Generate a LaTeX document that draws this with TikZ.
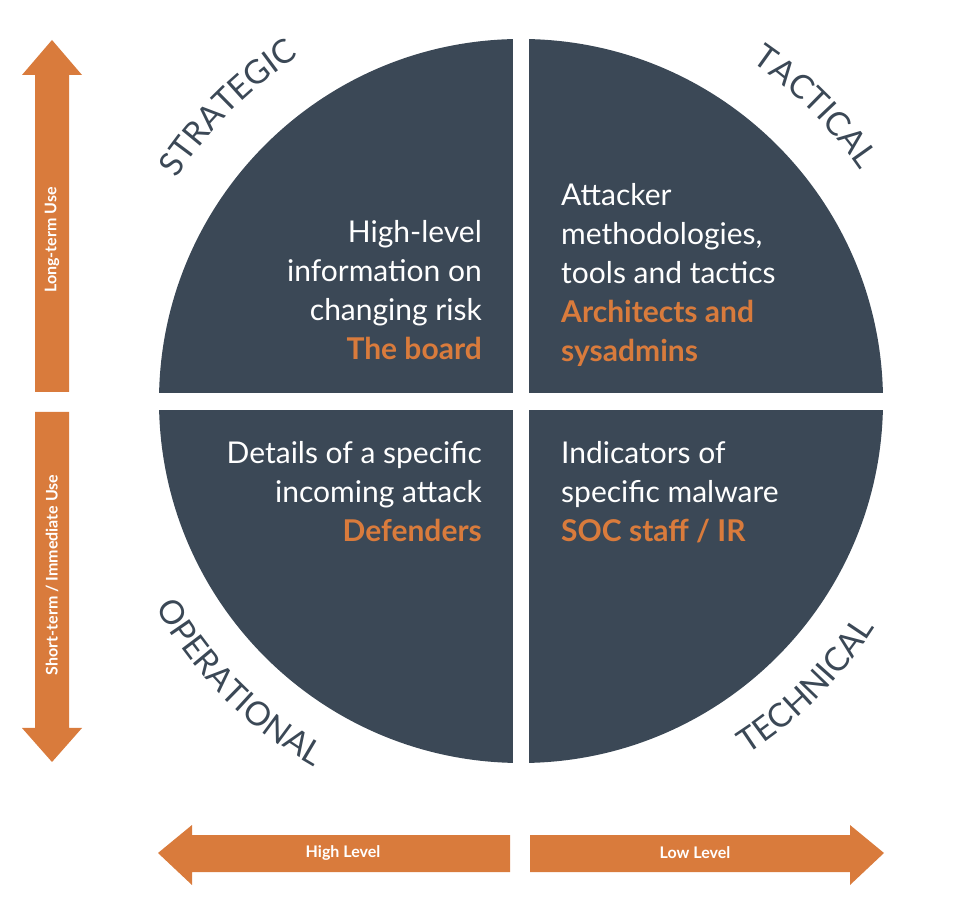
\documentclass[tikz,border=0pt]{standalone}
\usepackage{fontspec}
\setmainfont{Lato}
\usetikzlibrary{decorations.text,calc}
\definecolor{dk}{HTML}{3B4856}
\definecolor{og}{HTML}{D97B3C}
\begin{document}
\begin{tikzpicture}[x=1pt,y=1pt,
  qt/.style={text=white,font=\fontsize{30}{39}\selectfont,inner sep=0pt},
  al/.style={text=white,font=\bfseries\fontsize{16}{16}\selectfont,inner sep=0pt},
  arcl/.style={decorate,decoration={text along path,text align=center,
     text={|\fontsize{33}{33}\selectfont\color{dk}|#1}}}]
\useasboundingbox (0,0) rectangle (972,900);
\coordinate (c) at (521,499);
% quadrants
\begin{scope}
\clip (c) circle (362);
\fill[dk] (0,507) rectangle (513,900);
\fill[dk] (529,507) rectangle (972,900);
\fill[dk] (0,0) rectangle (513,490);
\fill[dk] (529,0) rectangle (972,490);
\end{scope}
% texts
\node[qt,align=right,anchor=base east] (tl) at (482,540) {High-level\\information on\\changing risk\\{\color{og}\bfseries The board}};
\node[qt,align=left,anchor=base west] (tr) at (561,538) {Attacker\\methodologies,\\tools and tactics\\{\color{og}\bfseries Architects and}\\{\color{og}\bfseries sysadmins}};
\node[qt,align=right,anchor=base east] (bl) at (482,358) {Details of a specific\\incoming attack\\{\color{og}\bfseries Defenders}};
\node[qt,align=left,anchor=base west] (br) at (561,358) {Indicators of\\specific malware\\{\color{og}\bfseries SOC staff / IR}};
% curved labels
\path[arcl=STRATEGIC] ($(c)+(175:410)$) arc (175:95:410);
\path[arcl=TACTICAL] ($(c)+(85:410)$) arc (85:5:410);
\path[arcl=OPERATIONAL] ($(c)+(185:420)$) arc (185:265:420);
\path[arcl=TECHNICAL] ($(c)+(275:420)$) arc (275:355:420);
% vertical arrows
\fill[og] (35,508) -- (35,825) -- (22,825) -- (52,860) -- (82,825) -- (69,825) -- (69,508) -- cycle;
\fill[og] (35,488) -- (35,172) -- (22,172) -- (52,138) -- (82,172) -- (69,172) -- (69,488) -- cycle;
\node[al,rotate=90] (lt) at (52,660) {Long-term Use};
\node[al,rotate=90] (st) at (52,325) {Short-term / Immediate Use};
% horizontal arrows
\fill[og] (510,65) -- (192,65) -- (192,75) -- (158,47) -- (192,15) -- (192,28) -- (510,28) -- cycle;
\fill[og] (530,65) -- (850,65) -- (850,75) -- (884,47) -- (850,15) -- (850,28) -- (530,28) -- cycle;
\node[al] (hl) at (343,47) {High Level};
\node[al] (ll) at (695,47) {Low Level};
\end{tikzpicture}
\end{document}
